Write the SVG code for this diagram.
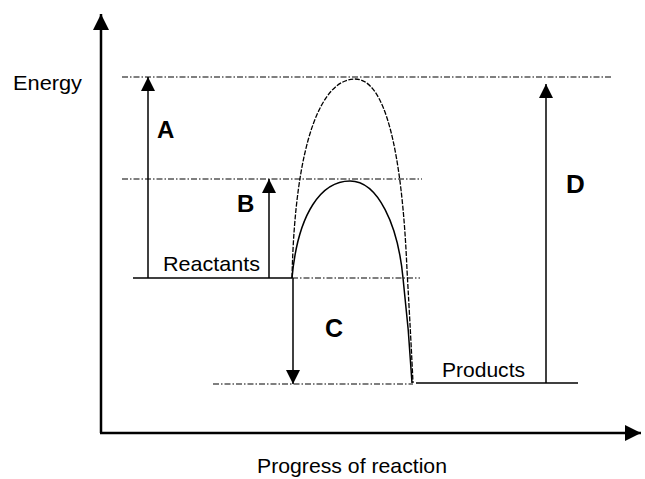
<svg xmlns="http://www.w3.org/2000/svg" width="645" height="479" viewBox="0 0 645 479">
<style>
.lbl{font-family:"Liberation Sans",Arial,sans-serif;fill:#000}
.big{font-family:"Liberation Sans",Arial,sans-serif;font-weight:bold;fill:#000}
.dash{stroke:#000;stroke-width:1.2;fill:none;stroke-dasharray:6,2,1.5,2}
.solid{stroke:#000;stroke-width:1.5;fill:none}
.ax{stroke:#000;stroke-width:2.5;fill:none}
</style>
<defs>
<marker id="axh" viewBox="0 0 10 10" refX="10" refY="5" markerWidth="20" markerHeight="16" markerUnits="userSpaceOnUse" orient="auto"><path d="M0,0 L10,5 L0,10 z" fill="#000"/></marker>
<marker id="ah2" viewBox="0 0 10 10" refX="10" refY="5" markerWidth="14" markerHeight="15" markerUnits="userSpaceOnUse" orient="auto"><path d="M0,0 L10,5 L0,10 z" fill="#000"/></marker>
</defs>
<g id="axes">
<line class="ax" x1="101" y1="433" x2="101" y2="14" marker-end="url(#axh)"/>
<line class="ax" x1="100" y1="433" x2="641" y2="433" marker-end="url(#axh)"/>
<text class="lbl" x="13" y="90" font-size="21" textLength="69" lengthAdjust="spacingAndGlyphs">Energy</text>
<text class="lbl" x="352" y="473" font-size="21" text-anchor="middle" textLength="190" lengthAdjust="spacingAndGlyphs">Progress of reaction</text>
</g>
<g id="levels">
<line class="dash" x1="122" y1="77" x2="613" y2="77"/>
<line class="dash" x1="122" y1="179" x2="422" y2="179"/>
<line class="dash" x1="292" y1="278" x2="420" y2="278"/>
<line class="dash" x1="213" y1="384" x2="413" y2="384"/>
</g>
<g id="reactants">
<line class="solid" x1="133" y1="278" x2="292" y2="278"/>
<text class="lbl" x="163" y="271" font-size="21" textLength="97" lengthAdjust="spacingAndGlyphs">Reactants</text>
</g>
<g id="products">
<line class="solid" x1="416" y1="383" x2="578" y2="383"/>
<text class="lbl" x="442" y="377" font-size="21" textLength="83" lengthAdjust="spacingAndGlyphs">Products</text>
</g>
<g id="curves">
<path d="M292,278 C295,140 322,79 355,79 C385,79 402,150 407,270 Q411,340 413,383" fill="none" stroke="#000" stroke-width="1.3" stroke-dasharray="5,1.5"/>
<path d="M292,278 C298,212 322,181 350,181 C378,181 398,225 403,278 Q409,330 412,383" fill="none" stroke="#000" stroke-width="1.5"/>
</g>
<g id="connectors">
<line class="solid" x1="148" y1="278" x2="148" y2="77" marker-end="url(#ah2)"/>
<line class="solid" x1="269" y1="278" x2="269" y2="179" marker-end="url(#ah2)"/>
<line class="solid" x1="293" y1="278" x2="293" y2="384" marker-end="url(#ah2)"/>
<line class="solid" x1="546" y1="383" x2="546" y2="84" marker-end="url(#ah2)"/>
</g>
<g id="labelA"><text class="big" x="157" y="138" font-size="24">A</text></g>
<g id="labelB"><text class="big" x="237" y="212" font-size="24">B</text></g>
<g id="labelC"><text class="big" x="325" y="337" font-size="25">C</text></g>
<g id="labelD"><text class="big" x="566" y="193" font-size="26">D</text></g>
</svg>
